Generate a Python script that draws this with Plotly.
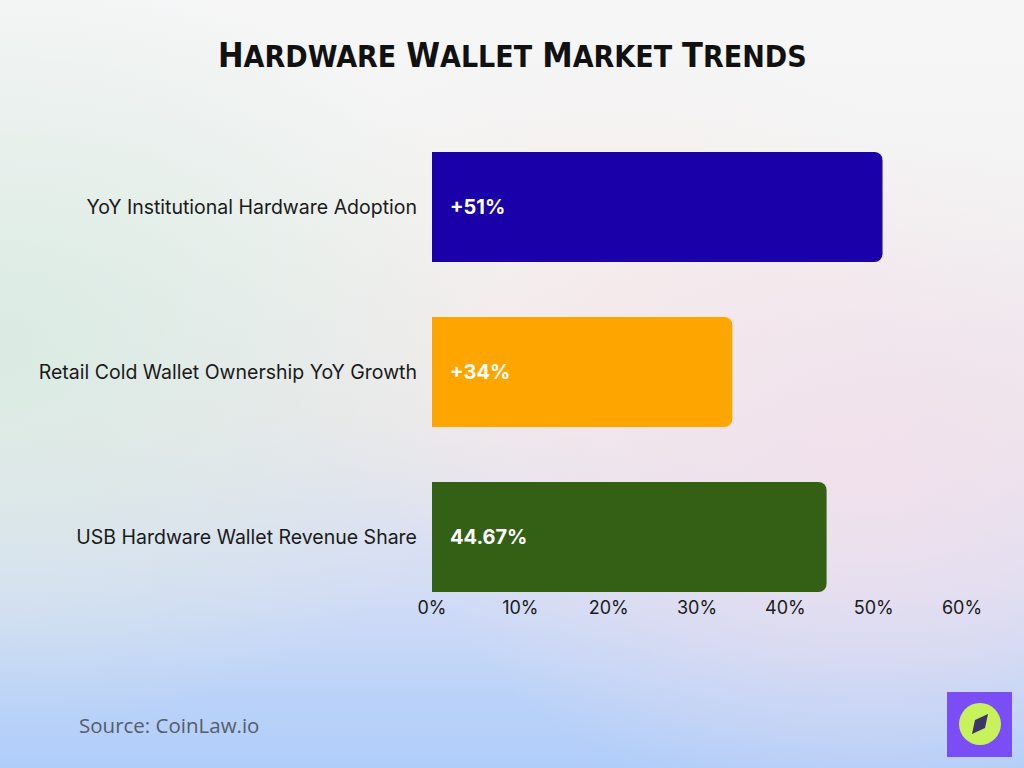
import base64
import plotly.graph_objects as go

# ---- data ----
categories = ["USB Hardware Wallet Revenue Share",
              "Retail Cold Wallet Ownership YoY Growth",
              "YoY Institutional Hardware Adoption"]
values = [44.67, 34, 51]
value_labels = ["44.67%", "+34%", "+51%"]
bar_colors = ["#336014", "#FFA500", "#1A00A8"]
tick_vals = [0, 10, 20, 30, 40, 50, 60]
tick_text = ["0%", "10%", "20%", "30%", "40%", "50%", "60%"]

W, H = 1024, 768

# ---- background gradient (SVG) ----
svg = f"""<svg xmlns='http://www.w3.org/2000/svg' width='{W}' height='{H}' viewBox='0 0 {W} {H}' preserveAspectRatio='none'>
<defs>
<linearGradient id='v' x1='0' y1='0' x2='0' y2='1'>
<stop offset='0' stop-color='#f6f6f7'/>
<stop offset='0.3' stop-color='#f3f3f2'/>
<stop offset='0.55' stop-color='#ece8ec'/>
<stop offset='0.76' stop-color='#d4ddf5'/>
<stop offset='0.9' stop-color='#bcd3f8'/>
<stop offset='1' stop-color='#b0cdfa'/>
</linearGradient>
<radialGradient id='g' cx='0' cy='0.45' r='0.5'>
<stop offset='0' stop-color='#d9ebe3' stop-opacity='0.95'/>
<stop offset='1' stop-color='#d9ebe3' stop-opacity='0'/>
</radialGradient>
<radialGradient id='p' cx='0.85' cy='0.62' r='0.45'>
<stop offset='0' stop-color='#f2e0ec' stop-opacity='0.9'/>
<stop offset='1' stop-color='#f2e0ec' stop-opacity='0'/>
</radialGradient>
<radialGradient id='pk' cx='0.6' cy='0.4' r='0.35'>
<stop offset='0' stop-color='#f6ecea' stop-opacity='0.8'/>
<stop offset='1' stop-color='#f6ecea' stop-opacity='0'/>
</radialGradient>
</defs>
<rect width='{W}' height='{H}' fill='url(#v)'/>
<rect width='{W}' height='{H}' fill='url(#pk)'/>
<rect width='{W}' height='{H}' fill='url(#p)'/>
<rect width='{W}' height='{H}' fill='url(#g)'/>
</svg>"""
bg_uri = "data:image/svg+xml;base64," + base64.b64encode(svg.encode()).decode()

fig = go.Figure()
fig.add_trace(go.Bar(
    y=categories, x=values, orientation="h",
    marker=dict(color=bar_colors, cornerradius=8, line=dict(width=0)),
    width=0.667, hoverinfo="skip",
))

# inside value labels
for c, v, t in zip(categories, values, value_labels):
    fig.add_annotation(x=0, y=c, xref="x", yref="y", text=f"<b>{t}</b>",
                       showarrow=False, xanchor="left", xshift=16,
                       font=dict(family="Inter, Lato, sans-serif", size=20, color="white"))

# title (small caps effect)
def small_caps(s, big, small):
    out = []
    for w in s.split(" "):
        out.append(f"<span style='font-size:{big}px'>{w[0]}</span>"
                   f"<span style='font-size:{small}px'>{w[1:].upper()}</span>")
    return " ".join(out)

fig.add_annotation(x=0.5, y=1 - 55 / H, xref="paper", yref="paper",
                   text="<b>" + small_caps("Hardware Wallet Market Trends", 34, 30) + "</b>",
                   showarrow=False, xanchor="center", yanchor="middle",
                   font=dict(family="DejaVu Sans Condensed, Roboto, sans-serif",
                             size=32, color="#111111"))

fig.add_annotation(x=77 / W, y=1 - 725 / H, xref="paper", yref="paper",
                   text="Source: CoinLaw.io", showarrow=False, xanchor="left", yanchor="middle",
                   font=dict(family="Open Sans, Roboto, sans-serif", size=20.5, color="#555d6b"))

# logo
fig.add_shape(type="rect", xref="paper", yref="paper",
              x0=947 / W, x1=1012 / W, y0=1 - 757 / H, y1=1 - 692 / H,
              fillcolor="#7B4DF6", line=dict(width=0), layer="above")
fig.add_shape(type="circle", xref="paper", yref="paper",
              x0=(980 - 21) / W, x1=(980 + 21) / W, y0=1 - (724 + 21) / H, y1=1 - (724 - 21) / H,
              fillcolor="#C8F25C", line=dict(width=0), layer="above")
pts = [(988, 714), (985, 728), (972, 734), (975, 720)]
path = "M " + " L ".join(f"{x / W},{1 - y / H}" for x, y in pts) + " Z"
fig.add_shape(type="path", xref="paper", yref="paper", path=path,
              fillcolor="#3B3568", line=dict(width=0), layer="above")

fig.update_layout(
    width=W, height=H,
    margin=dict(l=0, r=0, t=0, b=0, pad=0, autoexpand=False),
    paper_bgcolor="#f3f3f4", plot_bgcolor="rgba(0,0,0,0)",
    showlegend=False,
    images=[dict(source=bg_uri, xref="paper", yref="paper", x=0, y=1, sizex=1, sizey=1,
                 sizing="stretch", xanchor="left", yanchor="top", layer="below")],
    xaxis=dict(domain=[432 / W, 962 / W], range=[0, 60], tickvals=tick_vals, ticktext=tick_text,
               showgrid=False, zeroline=False, showline=False, ticks="",
               automargin=False,
               tickfont=dict(family="Inter, Lato, sans-serif", size=18, color="#1a1a1a"),
               fixedrange=True),
    yaxis=dict(domain=[1 - 595 / H, 1 - 149 / H], range=[-0.3515, 2.3515],
               showgrid=False, zeroline=False, showline=False, ticks="",
               ticklabelstandoff=14, automargin=False,
               tickfont=dict(family="Inter, Lato, sans-serif", size=19.5, color="#1a1a1a"),
               fixedrange=True),
)

fig.write_html("out.html", config={"displayModeBar": False},
               post_script="document.body.style.margin='0';document.body.style.overflow='hidden';")
